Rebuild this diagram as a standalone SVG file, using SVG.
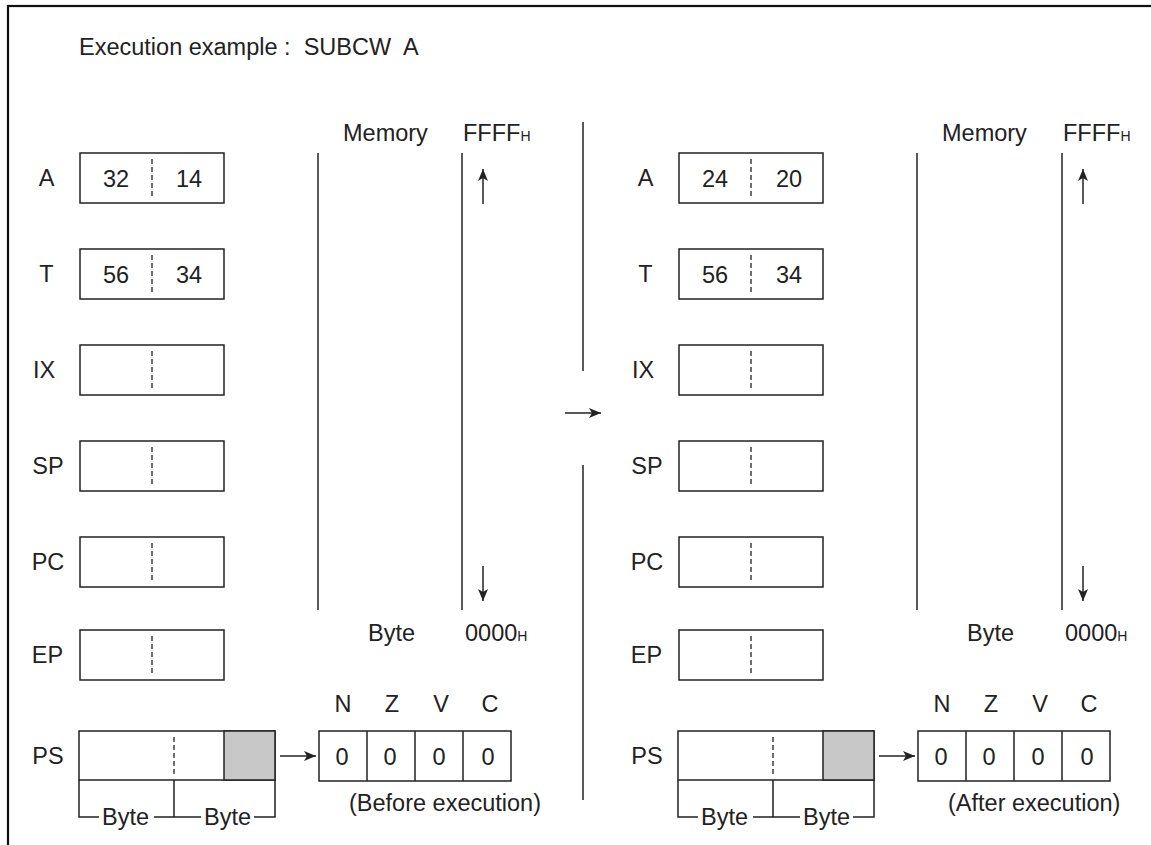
<svg xmlns="http://www.w3.org/2000/svg" width="1151" height="845" viewBox="0 0 1151 845">
<defs>
<style>
text{font-family:"Liberation Sans",Arial,sans-serif;font-size:23.5px;fill:#222}
.m{text-anchor:middle}
.sub{font-size:14px}
.box{fill:#fff;stroke:#222;stroke-width:1.5}
.gray{fill:#c8c8c8;stroke:#222;stroke-width:1.5}
.dash{stroke:#222;stroke-width:1.3;stroke-dasharray:5 3;fill:none}
.ln{stroke:#222;stroke-width:1.5;fill:none}
.arr{stroke:#222;stroke-width:1.5;fill:none;marker-end:url(#ah)}
</style>
<marker id="ah" markerUnits="userSpaceOnUse" markerWidth="14" markerHeight="12" refX="12" refY="5" orient="auto">
<path d="M0,0 L12,5 L0,10 L3,5 Z" fill="#222"/>
</marker>
</defs>
<rect x="8" y="6" width="1160" height="860" fill="#fff" stroke="#111" stroke-width="2.2"/>
<g id="title"><text x="79" y="55" xml:space="preserve">Execution example :  SUBCW  A</text></g>

<g id="before">
<g id="regA1"><text class="m" x="46.5" y="186">A</text><rect class="box" x="80" y="153" width="144" height="50"/><line class="dash" x1="152" y1="159" x2="152" y2="197"/><text class="m" x="116" y="187">32</text><text class="m" x="189" y="187">14</text></g>
<g id="regT1"><text class="m" x="46.5" y="282">T</text><rect class="box" x="80" y="249" width="144" height="50"/><line class="dash" x1="152" y1="255" x2="152" y2="293"/><text class="m" x="116" y="283">56</text><text class="m" x="189" y="283">34</text></g>
<g id="regIX1"><text class="m" x="44" y="378">IX</text><rect class="box" x="80" y="345" width="144" height="50"/><line class="dash" x1="152" y1="351" x2="152" y2="389"/></g>
<g id="regSP1"><text class="m" x="48" y="474">SP</text><rect class="box" x="80" y="441" width="144" height="50"/><line class="dash" x1="152" y1="447" x2="152" y2="485"/></g>
<g id="regPC1"><text class="m" x="48" y="570">PC</text><rect class="box" x="80" y="537" width="144" height="50"/><line class="dash" x1="152" y1="543" x2="152" y2="581"/></g>
<g id="regEP1"><text class="m" x="47.5" y="663">EP</text><rect class="box" x="80" y="630" width="144" height="50"/><line class="dash" x1="152" y1="636" x2="152" y2="674"/></g>
<g id="regPS1"><text class="m" x="48" y="764">PS</text><rect class="box" x="79" y="731" width="196" height="49"/><rect class="gray" x="224" y="731" width="51" height="49"/><line class="dash" x1="174" y1="737" x2="174" y2="775"/>
<path class="ln" d="M79,780 V817 H99 M154,817 H201 M174,780 V817 M254,817 H275 V780"/>
<text x="102" y="825">Byte</text><text x="204" y="825">Byte</text></g>
<g id="mem1"><line class="ln" x1="318" y1="153" x2="318" y2="610"/><line class="ln" x1="462" y1="153" x2="462" y2="610"/>
<text x="343" y="141">Memory</text><text x="463" y="141">FFFF<tspan class="sub">H</tspan></text>
<text x="368" y="641">Byte</text><text x="465" y="641">0000<tspan class="sub">H</tspan></text></g>
<g id="flags1"><text class="m" x="343" y="712">N</text><text class="m" x="392" y="712">Z</text><text class="m" x="441" y="712">V</text><text class="m" x="490" y="712">C</text>
<rect class="box" x="319" y="731" width="192" height="50"/><path class="ln" d="M367,731 V781 M415,731 V781 M463,731 V781"/>
<text class="m" x="342" y="765">0</text><text class="m" x="390" y="765">0</text><text class="m" x="439" y="765">0</text><text class="m" x="488" y="765">0</text>
<text x="349" y="811">(Before execution)</text></g>
</g>

<g id="divider"><line class="ln" x1="583" y1="122" x2="583" y2="371"/><line class="ln" x1="583" y1="465" x2="583" y2="800"/></g>

<g id="after">
<g id="regA2"><text class="m" x="645.5" y="186">A</text><rect class="box" x="679" y="153" width="144" height="50"/><line class="dash" x1="751" y1="159" x2="751" y2="197"/><text class="m" x="715" y="187">24</text><text class="m" x="789" y="187">20</text></g>
<g id="regT2"><text class="m" x="645.5" y="282">T</text><rect class="box" x="679" y="249" width="144" height="50"/><line class="dash" x1="751" y1="255" x2="751" y2="293"/><text class="m" x="715" y="283">56</text><text class="m" x="789" y="283">34</text></g>
<g id="regIX2"><text class="m" x="643" y="378">IX</text><rect class="box" x="679" y="345" width="144" height="50"/><line class="dash" x1="751" y1="351" x2="751" y2="389"/></g>
<g id="regSP2"><text class="m" x="647" y="474">SP</text><rect class="box" x="679" y="441" width="144" height="50"/><line class="dash" x1="751" y1="447" x2="751" y2="485"/></g>
<g id="regPC2"><text class="m" x="647" y="570">PC</text><rect class="box" x="679" y="537" width="144" height="50"/><line class="dash" x1="751" y1="543" x2="751" y2="581"/></g>
<g id="regEP2"><text class="m" x="646.5" y="663">EP</text><rect class="box" x="679" y="630" width="144" height="50"/><line class="dash" x1="751" y1="636" x2="751" y2="674"/></g>
<g id="regPS2"><text class="m" x="647" y="764">PS</text><rect class="box" x="678" y="731" width="196" height="49"/><rect class="gray" x="823" y="731" width="51" height="49"/><line class="dash" x1="773" y1="737" x2="773" y2="775"/>
<path class="ln" d="M678,780 V817 H698 M753,817 H800 M773,780 V817 M853,817 H874 V780"/>
<text x="701" y="825">Byte</text><text x="803" y="825">Byte</text></g>
<g id="mem2"><line class="ln" x1="917" y1="153" x2="917" y2="610"/><line class="ln" x1="1062" y1="153" x2="1062" y2="610"/>
<text x="942" y="141">Memory</text><text x="1063" y="141">FFFF<tspan class="sub">H</tspan></text>
<text x="967" y="641">Byte</text><text x="1065" y="641">0000<tspan class="sub">H</tspan></text></g>
<g id="flags2"><text class="m" x="942" y="712">N</text><text class="m" x="991" y="712">Z</text><text class="m" x="1040" y="712">V</text><text class="m" x="1089" y="712">C</text>
<rect class="box" x="918" y="731" width="192" height="50"/><path class="ln" d="M966,731 V781 M1014,731 V781 M1062,731 V781"/>
<text class="m" x="941" y="765">0</text><text class="m" x="989" y="765">0</text><text class="m" x="1038" y="765">0</text><text class="m" x="1087" y="765">0</text>
<text x="948" y="811">(After execution)</text></g>
</g>

<g id="connectors">
<line class="arr" x1="483" y1="204" x2="483" y2="169"/>
<line class="arr" x1="483" y1="566" x2="483" y2="601"/>
<line class="arr" x1="1083" y1="204" x2="1083" y2="169"/>
<line class="arr" x1="1083" y1="566" x2="1083" y2="601"/>
<line class="arr" x1="280" y1="756" x2="316" y2="756"/>
<line class="arr" x1="879" y1="756" x2="915" y2="756"/>
<line class="arr" x1="565" y1="413" x2="601" y2="413"/>
</g>
</svg>
